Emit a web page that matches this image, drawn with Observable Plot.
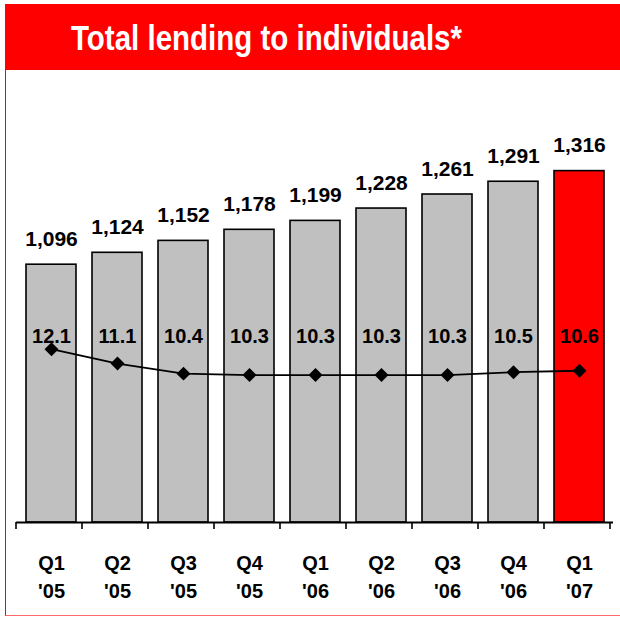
<!DOCTYPE html>
<html>
<head>
<meta charset="utf-8">
<script src="https://cdn.jsdelivr.net/npm/d3@7"></script>
<script src="https://cdn.jsdelivr.net/npm/@observablehq/plot@0.6"></script>
<style>
  html, body { margin: 0; padding: 0; background: #fff; }
  #page { position: relative; width: 620px; height: 617px; overflow: hidden; background: #fff; font-family: "Liberation Sans", Arial, sans-serif; }
  #banner { position: absolute; left: 5px; top: 4px; width: 615px; height: 66px; background: #ff0000; }
  #title { position: absolute; left: 0; top: 0; }
  #frame { position: absolute; left: 5px; top: 70px; width: 620px; height: 545px; border-left: 1.5px solid #ff0000; border-bottom: 1.5px solid #ff6a6a; box-sizing: content-box; }
  #chart, #overlay { position: absolute; left: 0; top: 70px; }
</style>
</head>
<body>
<div id="page">
  <div id="banner"></div>
  <svg id="title" width="620" height="70">
    <text x="71" y="50" fill="#ffffff" font-family="Liberation Sans, Arial, sans-serif" font-weight="bold" font-size="35" textLength="391" lengthAdjust="spacingAndGlyphs">Total lending to individuals*</text>
  </svg>
  <div id="frame"></div>
  <div id="chart"></div>
  <div id="overlay"></div>
</div>
<script>
// ---- data ----
const categories = ["Q1\n'05", "Q2\n'05", "Q3\n'05", "Q4\n'05", "Q1\n'06", "Q2\n'06", "Q3\n'06", "Q4\n'06", "Q1\n'07"];
const lending = [1096, 1124, 1152, 1178, 1199, 1228, 1261, 1291, 1316];
const rate = [12.1, 11.1, 10.4, 10.3, 10.3, 10.3, 10.3, 10.5, 10.6];

// ---- layout / style ----
const W = 620, H = 547;
const margins = {marginLeft: 16, marginRight: 7, marginTop: 10, marginBottom: 95};
const yDomain = [490, 1529];
const rateDomain = [0.06, 30.76];
const GRAY = "#c0c0c0", RED = "#ff0000";
const font = "'Liberation Sans', Arial, sans-serif";

const data = categories.map((c, i) => ({cat: c, value: lending[i], rate: rate[i], last: i === categories.length - 1}));
const fmt = d3.format(",");

const chart = Plot.plot({
  width: W, height: H, ...margins,
  style: {fontFamily: font, background: "transparent", overflow: "visible"},
  x: {type: "band", domain: categories, padding: 0, axis: null},
  y: {domain: yDomain, axis: null},
  marks: [
    Plot.barY(data, {x: "cat", y1: yDomain[0], y2: "value", insetLeft: 8, insetRight: 8,
      fill: d => d.last ? RED : GRAY, stroke: "#000", strokeWidth: 1.6}),
    Plot.text(data, {x: "cat", y: "value", text: d => fmt(d.value), dy: -19, lineAnchor: "bottom",
      fontSize: 21, fontWeight: "bold", fill: "#000"}),
    Plot.ruleY([yDomain[0]], {stroke: "#000", strokeWidth: 2}),
    Plot.text(data, {x: "cat", text: "cat", frameAnchor: "bottom", lineAnchor: "top", dy: 27, lineHeight: 1.42,
      fontSize: 20, fontWeight: "bold", fill: "#000"})
  ]
});
document.getElementById("chart").appendChild(chart);

// boundary ticks on the category axis, from the band scale
const sx = chart.scale("x");
const sy = chart.scale("y");
const y0 = sy.apply(yDomain[0]);
const svg = d3.select(chart);
d3.range(categories.length + 1).forEach(i => {
  const xb = sx.range[0] + i * sx.step;
  svg.append("line").attr("x1", xb).attr("x2", xb).attr("y1", y0).attr("y2", y0 + 7)
    .attr("stroke", "#000").attr("stroke-width", 1.6);
});

const overlay = Plot.plot({
  width: W, height: H, ...margins,
  style: {fontFamily: font, background: "transparent", overflow: "visible"},
  x: {type: "band", domain: categories, padding: 0, axis: null},
  y: {domain: rateDomain, axis: null},
  marks: [
    Plot.line(data, {x: "cat", y: "rate", stroke: "#000", strokeWidth: 1.8}),
    Plot.dot(data, {x: "cat", y: "rate", symbol: "diamond2", r: 6.3, fill: "#000", stroke: "none"}),
    Plot.text(data, {x: "cat", text: d => d.rate.toFixed(1), frameAnchor: "top", lineAnchor: "bottom", dy: 262,
      fontSize: 20, fontWeight: "bold", fill: "#000"})
  ]
});
document.getElementById("overlay").appendChild(overlay);
</script>
</body>
</html>
